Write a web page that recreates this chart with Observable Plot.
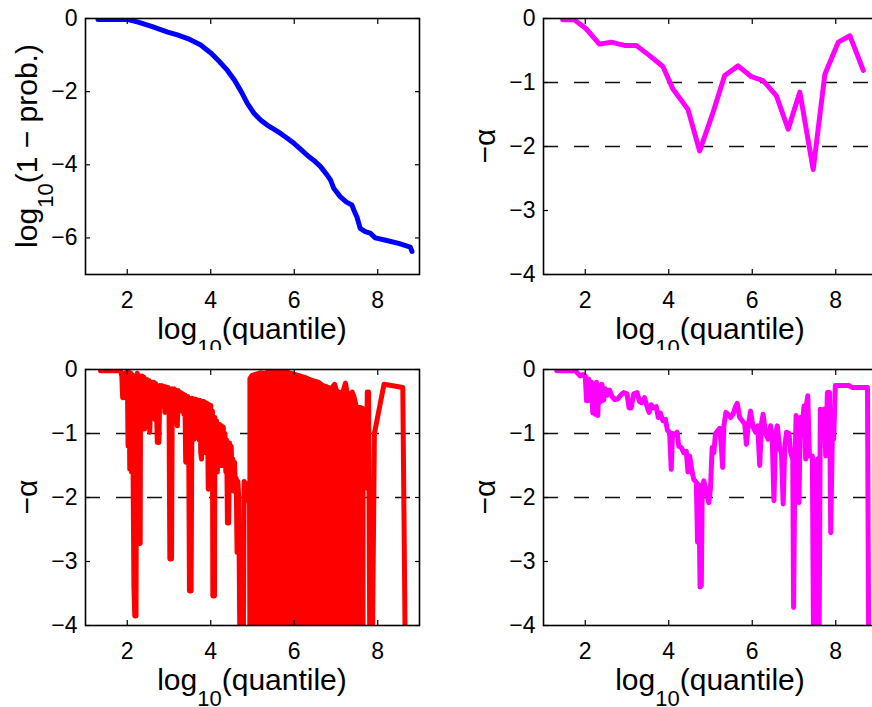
<!DOCTYPE html>
<html>
<head>
<meta charset="utf-8">
<script src="https://cdn.jsdelivr.net/npm/d3@7"></script>
<script src="https://cdn.jsdelivr.net/npm/@observablehq/plot@0.6"></script>
<style>
  html, body { margin: 0; padding: 0; background: #fff; overflow: hidden; }
  #root { position: relative; width: 872px; height: 707px; overflow: hidden; }
  .panel { position: absolute; overflow: visible; }
  .panel svg { max-width: none !important; }
  .panel svg text { font-size: 23px; }
</style>
</head>
<body>
<div id="root"></div>
<script>
// ---------- data ----------
const xTicks = [2, 4, 6, 8];
const probTicks = [0, -2, -4, -6];
const alphaTicks = [0, -1, -2, -3, -4];
const alphaRefs = [-1, -2];

// top-left: log10(1 - prob.) vs log10(quantile)
const survival = [
  [1.3,-0.03],[1.8,-0.03],[2.02,-0.03],[2.26,-0.1],[2.6,-0.22],[2.97,-0.37],[3.2,-0.45],
  [3.45,-0.55],[3.75,-0.72],[4.01,-0.95],[4.2,-1.17],[4.4,-1.42],[4.57,-1.69],[4.73,-2.0],
  [4.88,-2.33],[5.04,-2.6],[5.2,-2.78],[5.36,-2.92],[5.52,-3.03],[5.68,-3.15],[5.84,-3.28],
  [6.0,-3.42],[6.15,-3.57],[6.31,-3.74],[6.47,-3.88],[6.63,-4.05],[6.78,-4.27],[6.87,-4.42],
  [6.95,-4.65],[7.1,-4.87],[7.25,-5.02],[7.38,-5.1],[7.45,-5.3],[7.5,-5.42],[7.58,-5.74],
  [7.7,-5.83],[7.82,-5.87],[7.94,-6.0],[8.14,-6.05],[8.5,-6.15],[8.78,-6.25],[8.82,-6.37]
];

// top-right: binned -alpha
const alphaCoarse = [
  [1.46,-0.02],[1.74,-0.02],[2.02,-0.16],[2.34,-0.4],[2.62,-0.37],[2.94,-0.42],[3.22,-0.42],
  [3.54,-0.58],[3.86,-0.75],[4.1,-1.1],[4.46,-1.42],[4.74,-2.07],[5.06,-1.47],[5.34,-0.89],
  [5.66,-0.74],[5.98,-0.91],[6.26,-0.97],[6.58,-1.21],[6.86,-1.73],[7.14,-1.15],[7.46,-2.36],
  [7.74,-0.87],[8.06,-0.37],[8.34,-0.27],[8.66,-0.81]
];

// bottom-left: raw -alpha (left jagged part, dense block envelope, right part)
const alphaRawLeft = [
  [1.36,-0.02],[1.84,-0.02],[1.87,-0.1],[1.89,-0.44],[1.92,-0.44],[1.94,-0.06],[2.0,-0.03],
  [2.02,-1.2],[2.04,-0.05],[2.06,-1.56],[2.08,-0.05],[2.1,-1.6],[2.12,-0.08],[2.14,-1.6],
  [2.16,-3.4],[2.18,-3.85],[2.21,-3.85],[2.22,-1.4],[2.24,-0.06],[2.26,-1.0],[2.27,-2.72],
  [2.31,-2.72],[2.32,-0.1],[2.34,-0.95],[2.36,-0.1],[2.38,-0.9],[2.4,-0.12],[2.42,-0.93],
  [2.44,-0.15],[2.46,-0.6],[2.48,-0.16],[2.5,-0.7],[2.52,-0.17],[2.54,-0.98],[2.56,-0.2],
  [2.58,-0.5],[2.6,-0.2],[2.62,-0.6],[2.64,-0.2],[2.66,-0.78],[2.68,-0.22],[2.7,-0.6],
  [2.72,-1.14],[2.76,-1.14],[2.78,-0.25],[2.8,-0.55],[2.82,-0.25],[2.85,-0.5],[2.87,-0.26],
  [2.9,-0.67],[2.92,-0.27],[2.95,-0.5],[2.98,-0.28],[3.0,-0.5],[3.02,-2.96],[3.06,-2.96],
  [3.08,-0.3],[3.1,-0.6],[3.12,-0.3],[3.14,-0.5],[3.16,-0.32],[3.18,-0.75],[3.2,-0.88],
  [3.22,-0.33],[3.25,-0.6],[3.28,-0.36],[3.3,-0.65],[3.33,-0.38],[3.36,-0.7],[3.38,-0.4],
  [3.4,-1.45],[3.43,-1.45],[3.45,-0.42],[3.47,-0.9],[3.49,-3.46],[3.53,-3.46],[3.55,-0.45],
  [3.57,-0.9],[3.6,-1.09],[3.62,-0.46],[3.64,-0.9],[3.66,-0.47],[3.68,-0.95],[3.7,-0.48],
  [3.72,-1.1],[3.74,-0.48],[3.76,-1.3],[3.78,-1.4],[3.8,-0.5],[3.82,-1.2],[3.84,-0.5],
  [3.86,-1.3],[3.88,-0.52],[3.9,-1.1],[3.92,-0.53],[3.94,-1.87],[3.96,-0.55],[3.98,-1.2],
  [4.0,-0.56],[4.02,-1.3],[4.04,-0.65],[4.05,-3.54],[4.09,-3.54],[4.1,-0.75],[4.12,-1.4],
  [4.14,-0.8],[4.16,-1.6],[4.18,-0.88],[4.2,-1.4],[4.22,-0.86],[4.24,-1.5],[4.26,-0.88],
  [4.28,-1.5],[4.3,-0.9],[4.32,-1.3],[4.34,-1.0],[4.36,-1.6],[4.38,-1.1],[4.4,-2.4],
  [4.43,-2.4],[4.45,-1.15],[4.47,-1.6],[4.49,-1.2],[4.51,-1.7],[4.53,-1.4],[4.55,-1.9],
  [4.57,-1.45],[4.59,-1.9],[4.61,-1.7],[4.63,-2.86],[4.65,-1.75],[4.67,-2.0],[4.7,-4.5],
  [4.78,-4.5],[4.8,-1.75],[4.83,-2.0],[4.86,-1.78],[4.9,-2.0],[4.93,-2.1],[4.95,-4.5]
];
const alphaRawBlockTop = [
  [4.95,-0.15],[5.0,-0.1],[5.1,-0.08],[5.2,-0.06],[5.3,-0.07],[5.4,-0.04],[5.5,-0.05],
  [5.6,-0.02],[5.66,0.0],[5.72,-0.04],[5.8,-0.04],[5.9,-0.06],[6.0,-0.08],[6.1,-0.1],
  [6.2,-0.12],[6.3,-0.14],[6.4,-0.17],[6.5,-0.19],[6.6,-0.21],[6.7,-0.26],[6.8,-0.28],
  [6.9,-0.31],[6.98,-0.24],[7.02,-0.33],[7.1,-0.38],[7.18,-0.35],[7.24,-0.22],[7.28,-0.38],
  [7.35,-0.4],[7.4,-0.36],[7.45,-0.45],[7.5,-0.6],[7.58,-0.6],[7.66,-0.62]
];
const alphaRawRight = [
  [7.66,-0.62],[7.68,-1.8],[7.7,-0.65],[7.72,-1.85],[7.75,-0.35],[7.78,-0.35],[7.81,-4.5],
  [7.87,-4.5],[7.92,-1.0],[8.15,-0.23],[8.6,-0.28],[8.66,-4.5]
];

// bottom-right: finer -alpha
const alphaFine = [
  [1.32,-0.02],[1.76,-0.02],[1.82,-0.06],[1.88,-0.1],[1.95,-0.08],[2.0,-0.1],[2.03,-0.49],
  [2.06,-0.49],[2.08,-0.15],[2.12,-0.3],[2.15,-0.2],[2.18,-0.68],[2.21,-0.25],[2.24,-0.7],
  [2.27,-0.2],[2.3,-0.72],[2.33,-0.25],[2.37,-0.5],[2.4,-0.23],[2.44,-0.48],[2.48,-0.3],
  [2.53,-0.4],[2.58,-0.32],[2.64,-0.42],[2.7,-0.47],[2.78,-0.46],[2.85,-0.4],[2.92,-0.36],
  [3.0,-0.38],[3.05,-0.6],[3.1,-0.6],[3.16,-0.38],[3.24,-0.36],[3.3,-0.5],[3.35,-0.52],
  [3.42,-0.44],[3.48,-0.58],[3.53,-0.67],[3.58,-0.55],[3.64,-0.6],[3.7,-0.58],[3.75,-0.75],
  [3.8,-0.68],[3.86,-0.8],[3.92,-0.78],[3.97,-0.95],[4.02,-0.98],[4.06,-1.56],[4.09,-1.0],
  [4.14,-1.02],[4.2,-0.98],[4.24,-1.2],[4.3,-1.22],[4.36,-1.3],[4.42,-1.28],[4.46,-1.6],
  [4.5,-1.35],[4.56,-1.6],[4.6,-1.72],[4.66,-1.76],[4.69,-2.7],[4.72,-1.8],[4.75,-3.4],
  [4.78,-3.38],[4.8,-1.9],[4.84,-1.74],[4.9,-1.9],[4.96,-2.08],[5.0,-1.85],[5.04,-1.22],
  [5.08,-1.3],[5.12,-1.0],[5.18,-0.95],[5.22,-0.92],[5.26,-1.2],[5.29,-1.53],[5.32,-0.88],
  [5.37,-0.67],[5.42,-0.7],[5.48,-0.75],[5.54,-0.7],[5.6,-0.58],[5.64,-0.53],[5.7,-0.75],
  [5.76,-0.8],[5.82,-0.85],[5.86,-1.17],[5.9,-0.9],[5.96,-0.65],[6.02,-0.9],[6.08,-0.98],
  [6.13,-0.88],[6.18,-1.5],[6.22,-0.85],[6.26,-0.7],[6.32,-1.0],[6.38,-1.09],[6.44,-0.88],
  [6.48,-1.1],[6.52,-2.05],[6.56,-1.0],[6.6,-0.88],[6.66,-1.25],[6.7,-1.3],[6.74,-2.1],
  [6.78,-1.2],[6.82,-0.98],[6.88,-1.0],[6.92,-1.3],[6.97,-1.4],[6.99,-3.72],[7.02,-1.6],
  [7.05,-0.72],[7.09,-1.5],[7.12,-2.08],[7.15,-0.75],[7.2,-0.85],[7.24,-0.57],[7.28,-1.4],
  [7.3,-0.55],[7.33,-0.41],[7.37,-1.35],[7.44,-1.35],[7.47,-4.5],[7.53,-4.5],[7.56,-1.4],
  [7.6,-4.5],[7.63,-0.62],[7.68,-0.65],[7.72,-0.62],[7.76,-1.35],[7.8,-0.36],[7.85,-0.36],
  [7.88,-2.55],[7.92,-1.0],[7.95,-1.09],[7.99,-0.25],[8.31,-0.25],[8.39,-0.28],[8.76,-0.28],
  [8.79,-4.5]
];

// ---------- rendering ----------
const FONT = '"Liberation Sans", Arial, Helvetica, sans-serif';
const BLUE = "#0000ff", MAGENTA = "#ff00ff", RED = "#ff0000";
const fmt = d => (d < 0 ? "\u2212" + (-d) : String(d));
const noText = () => "";

function axes(yTicks) {
  const tick = {tickSize: 5, tickFormat: noText, label: null, stroke: "black", strokeWidth: 1.2};
  return [
    Plot.axisX(xTicks, {anchor: "bottom", tickSize: 0, tickPadding: 17, tickFormat: fmt, fontSize: 23, label: null, fill: "black"}),
    Plot.axisY(yTicks, {anchor: "left", tickSize: 0, tickPadding: 8, tickFormat: fmt, fontSize: 23, label: null, fill: "black"}),
    Plot.axisX(xTicks, {...tick, anchor: "bottom", dy: -5}),
    Plot.axisX(xTicks, {...tick, anchor: "top", dy: 5}),
    Plot.axisY(yTicks, {...tick, anchor: "left", dx: 5}),
    Plot.axisY(yTicks, {...tick, anchor: "right", dx: -5})
  ];
}

function panel({left, top, width, height, ml, mr, mt, mb, yDomain, yTicks, marks, xLabel, yLabel}) {
  const svg = Plot.plot({
    width, height,
    marginLeft: ml, marginRight: mr, marginTop: mt, marginBottom: mb,
    style: {fontFamily: FONT, fontSize: "23px", color: "black", background: "white", maxWidth: "none", overflow: "visible"},
    x: {domain: [1, 9]},
    y: {domain: yDomain},
    marks: [
      ...marks,
      ...axes(yTicks),
      Plot.frame({stroke: "black", strokeWidth: 1.6})
    ]
  });
  const div = document.createElement("div");
  div.className = "panel";
  div.style.left = left + "px";
  div.style.top = top + "px";
  div.style.width = width + "px";
  div.style.height = height + "px";
  div.appendChild(svg);
  document.getElementById("root").appendChild(div);

  const s = d3.select(svg);
  const fl = ml, fr = width - mr, ft = mt, fb = height - mb;
  const tx = s.append("text")
    .attr("x", (fl + fr) / 2).attr("y", fb + 65)
    .attr("text-anchor", "middle")
    .style("font-family", FONT).style("font-size", "30px").attr("fill", "black");
  addLabel(tx, xLabel);
  const ty = s.append("text")
    .attr("transform", `translate(${fl - 48},${(ft + fb) / 2}) rotate(-90)`)
    .attr("text-anchor", "middle")
    .style("font-family", FONT).style("font-size", "30px").attr("fill", "black");
  addLabel(ty, yLabel);
}

function addLabel(t, parts) {
  let shift = 0;
  for (const p of parts) {
    const span = t.append("tspan").text(p.text);
    if (p.sub) {
      span.style("font-size", "22px").attr("dy", 16);
      shift = 16;
    } else if (shift) {
      span.attr("dy", -shift);
      shift = 0;
    }
  }
}

const xLab = [{text: "log"}, {text: "10", sub: true}, {text: "(quantile)"}];
const alphaLab = [{text: "\u2212\u03b1"}];
const probLab = [{text: "log"}, {text: "10", sub: true}, {text: "(1 \u2212 prob.)"}];

const refRule = Plot.ruleY(alphaRefs, {stroke: "#111", strokeWidth: 1.5, strokeDasharray: "15,16"});

panel({
  left: 0, top: 0, width: 436, height: 350, ml: 85, mr: 17, mt: 18, mb: 76,
  yDomain: [-7, 0], yTicks: probTicks, xLabel: xLab, yLabel: probLab,
  marks: [
    Plot.line(survival, {x: d => d[0], y: d => d[1], stroke: BLUE, strokeWidth: 5, clip: true})
  ]
});

panel({
  left: 436, top: 0, width: 450, height: 350, ml: 107, mr: 9, mt: 18, mb: 76,
  yDomain: [-4, 0], yTicks: alphaTicks, xLabel: xLab, yLabel: alphaLab,
  marks: [
    refRule,
    Plot.line(alphaCoarse, {x: d => d[0], y: d => d[1], stroke: MAGENTA, strokeWidth: 5, clip: true})
  ]
});

panel({
  left: 0, top: 350, width: 436, height: 357, ml: 85, mr: 17, mt: 19, mb: 82,
  yDomain: [-4, 0], yTicks: alphaTicks, xLabel: xLab, yLabel: alphaLab,
  marks: [
    refRule,
    Plot.areaY(alphaRawBlockTop, {x: d => d[0], y1: -4.5, y2: d => d[1], fill: RED, stroke: RED, strokeWidth: 5, strokeLinejoin: "round", clip: true}),
    Plot.line(alphaRawLeft, {x: d => d[0], y: d => d[1], stroke: RED, strokeWidth: 5, clip: true}),
    Plot.line(alphaRawRight, {x: d => d[0], y: d => d[1], stroke: RED, strokeWidth: 5, clip: true})
  ]
});

panel({
  left: 436, top: 350, width: 450, height: 357, ml: 107, mr: 9, mt: 19, mb: 82,
  yDomain: [-4, 0], yTicks: alphaTicks, xLabel: xLab, yLabel: alphaLab,
  marks: [
    refRule,
    Plot.line(alphaFine, {x: d => d[0], y: d => d[1], stroke: MAGENTA, strokeWidth: 5, clip: true})
  ]
});
</script>
</body>
</html>
